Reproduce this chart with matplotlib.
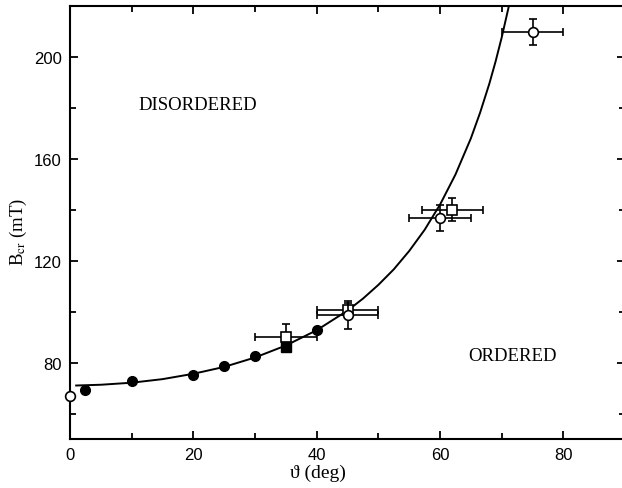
import numpy as np
import matplotlib.pyplot as plt
from matplotlib.ticker import MultipleLocator

plt.rcParams["mathtext.fontset"] = "stix"

# filled circles
fc_x = [2.5, 10, 20, 25, 30, 40]
fc_y = [69.4, 72.9, 75.0, 78.8, 82.4, 92.9]

# filled square
fs_x = [35]
fs_y = [86.3]

# open circles with error bars
oc_x = [0, 45, 60, 75]
oc_y = [67.0, 98.5, 136.7, 209.7]
oc_xerr = [0, 5, 5, 5]
oc_yerr = [0, 5.5, 5, 5]

# open squares with error bars
os_x = [35, 45, 62]
os_y = [90.1, 100.5, 140.1]
os_xerr = [5, 5, 5]
os_yerr = [5, 3, 4.7]

# boundary curve
cv_x = [1, 5, 10, 15, 20, 25, 30, 35, 40, 45, 47.5, 50, 52.5, 55, 57.5, 60,
        62.5, 65, 66.5, 68, 69, 70, 71.2]
cv_y = [71.0, 71.3, 72.1, 73.5, 75.6, 78.3, 82.0, 86.7, 92.7, 100.4, 105.1,
        110.5, 116.6, 123.8, 132.1, 142.0, 153.8, 168.0, 178.1, 189.5, 198.1,
        207.6, 220.3]

fig = plt.figure(figsize=(6.22, 4.89), dpi=100)
ax = fig.add_axes([70 / 622, 49 / 489, 555 / 622, 433 / 489])

ax.plot(cv_x, cv_y, color="black", lw=1.4, zorder=2)

ax.errorbar(os_x, os_y, xerr=os_xerr, yerr=os_yerr, fmt="s", ms=6.5,
            mfc="white", mec="black", mew=1.2, ecolor="black", elinewidth=1.2,
            capsize=3, capthick=1.2, zorder=3)
ax.errorbar(oc_x, oc_y, xerr=oc_xerr, yerr=oc_yerr, fmt="o", ms=7,
            mfc="white", mec="black", mew=1.2, ecolor="black", elinewidth=1.2,
            capsize=3, capthick=1.2, zorder=4, clip_on=False)
ax.plot(fs_x, fs_y, "s", ms=6.5, color="black", zorder=4)
ax.plot(fc_x, fc_y, "o", ms=7, color="black", zorder=4)

ax.set_xlim(0, 90)
ax.set_ylim(50, 220)
ax.xaxis.set_major_locator(MultipleLocator(20))
ax.xaxis.set_minor_locator(MultipleLocator(10))
ax.yaxis.set_major_locator(MultipleLocator(40))
ax.yaxis.set_minor_locator(MultipleLocator(20))
ax.set_yticks([80, 120, 160, 200])

ax.tick_params(which="both", direction="in", top=True, right=True, width=1.3,
               labelsize=12, pad=6)
ax.tick_params(which="major", length=6)
ax.tick_params(which="minor", length=4)
for lab in ax.get_xticklabels() + ax.get_yticklabels():
    lab.set_fontfamily("Liberation Sans")
for s in ax.spines.values():
    s.set_linewidth(1.5)

serif = ["Liberation Serif", "DejaVu Serif"]
ax.set_xlabel("\u03d1 (deg)", fontsize=14, family=serif)
ax.xaxis.set_label_coords(0.447, -0.058)
ax.set_ylabel(r"B$_{\rm cr}$ (mT)", fontsize=13.5, family=serif)
ax.yaxis.set_label_coords(-0.074, 0.48)

ax.text(20.7, 181.2, "DISORDERED", fontsize=13.5, family=serif,
        ha="center", va="center")
ax.text(71.8, 82.7, "ORDERED", fontsize=13.5, family=serif,
        ha="center", va="center")

fig.savefig("out.png", dpi=100)
